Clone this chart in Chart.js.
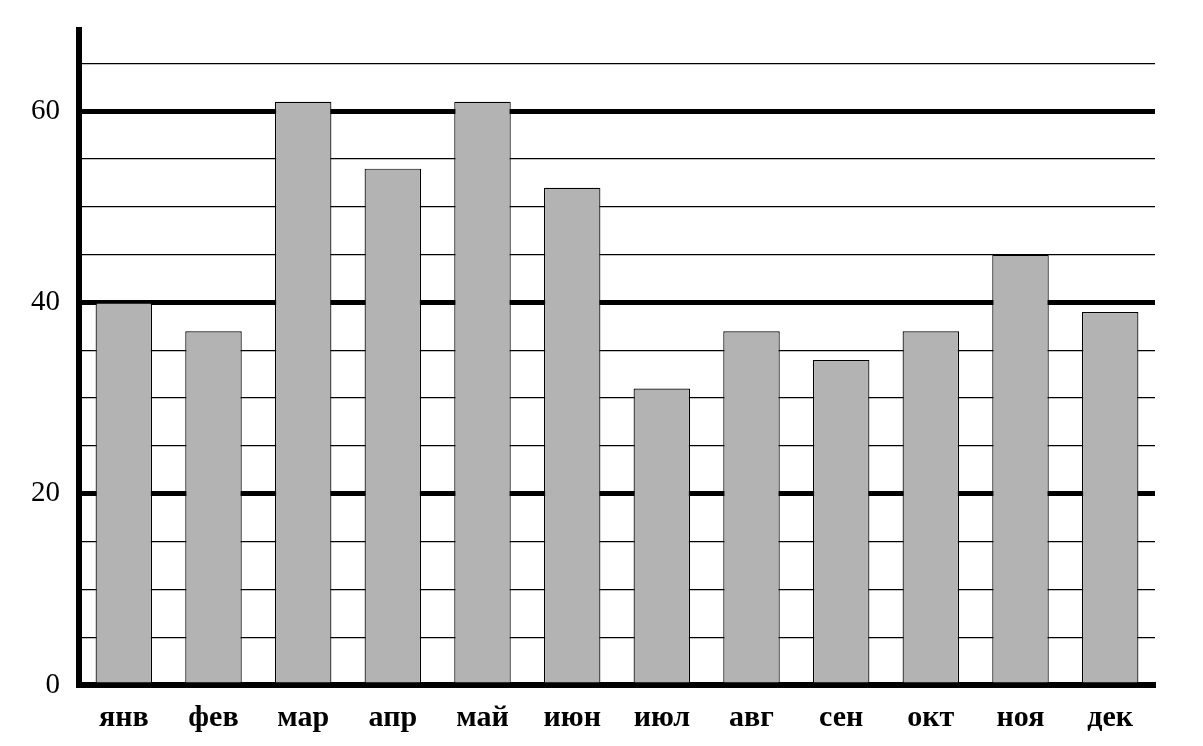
<!DOCTYPE html>
<html>
<head>
<meta charset="utf-8">
<script src="https://cdn.jsdelivr.net/npm/chart.js@4/dist/chart.umd.min.js"></script>
<style>
  html, body { margin: 0; padding: 0; background: #fff; }
  #wrap { width: 1203px; height: 746px; }
</style>
</head>
<body>
<div id="wrap"><canvas id="chart" width="1203" height="746"></canvas></div>
<script>
const months = ['янв', 'фев', 'мар', 'апр', 'май', 'июн', 'июл', 'авг', 'сен', 'окт', 'ноя', 'дек']
const values = [40, 37, 61, 54, 61, 52, 31, 37, 34, 37, 45, 39]
const yMax = 68.5
const yStep = 5
const labelledTicks = [0, 20, 40, 60]

// drop the label-driven padding so the plot area is set by layout.padding alone
const noPad = (scale) => {
  scale.paddingTop = 0
  scale.paddingBottom = 0
  scale.paddingLeft = 0
  scale.paddingRight = 0
}

const ctx = document.getElementById('chart').getContext('2d')
new Chart(ctx, {
  type: 'bar',
  data: {
    labels: months,
    datasets: [{
      data: values,
      backgroundColor: '#b3b3b3',
      borderColor: '#000',
      borderWidth: 1.2,
      barPercentage: 0.63,
      categoryPercentage: 1.0
    }]
  },
  options: {
    responsive: false,
    animation: false,
    layout: { padding: { top: 30, right: 48, left: 0, bottom: 0 } },
    plugins: { legend: { display: false }, tooltip: { enabled: false } },
    scales: {
      x: {
        grid: { display: false, drawTicks: false },
        border: { display: true, color: '#000', width: 6 },
        ticks: {
          color: '#000',
          padding: 15,
          font: { family: 'Liberation Serif', size: 30, weight: 'bold' }
        },
        afterFit: (scale) => { scale.height = 61; noPad(scale) }
      },
      y: {
        min: 0,
        max: yMax,
        grid: {
          drawTicks: false,
          color: (c) => (c.tick && c.tick.value > 66) ? 'rgba(0,0,0,0)' : '#000',
          lineWidth: (c) => (c.tick && c.tick.value % 20 === 0) ? 5 : 1.3
        },
        border: { display: true, color: '#000', width: 6 },
        ticks: {
          stepSize: yStep,
          color: '#000',
          padding: 19,
          font: { family: 'Liberation Serif', size: 29 },
          callback: (v) => labelledTicks.includes(v) ? v : ''
        },
        afterFit: (scale) => { scale.width = 79; noPad(scale) }
      }
    }
  }
})
</script>
</body>
</html>
